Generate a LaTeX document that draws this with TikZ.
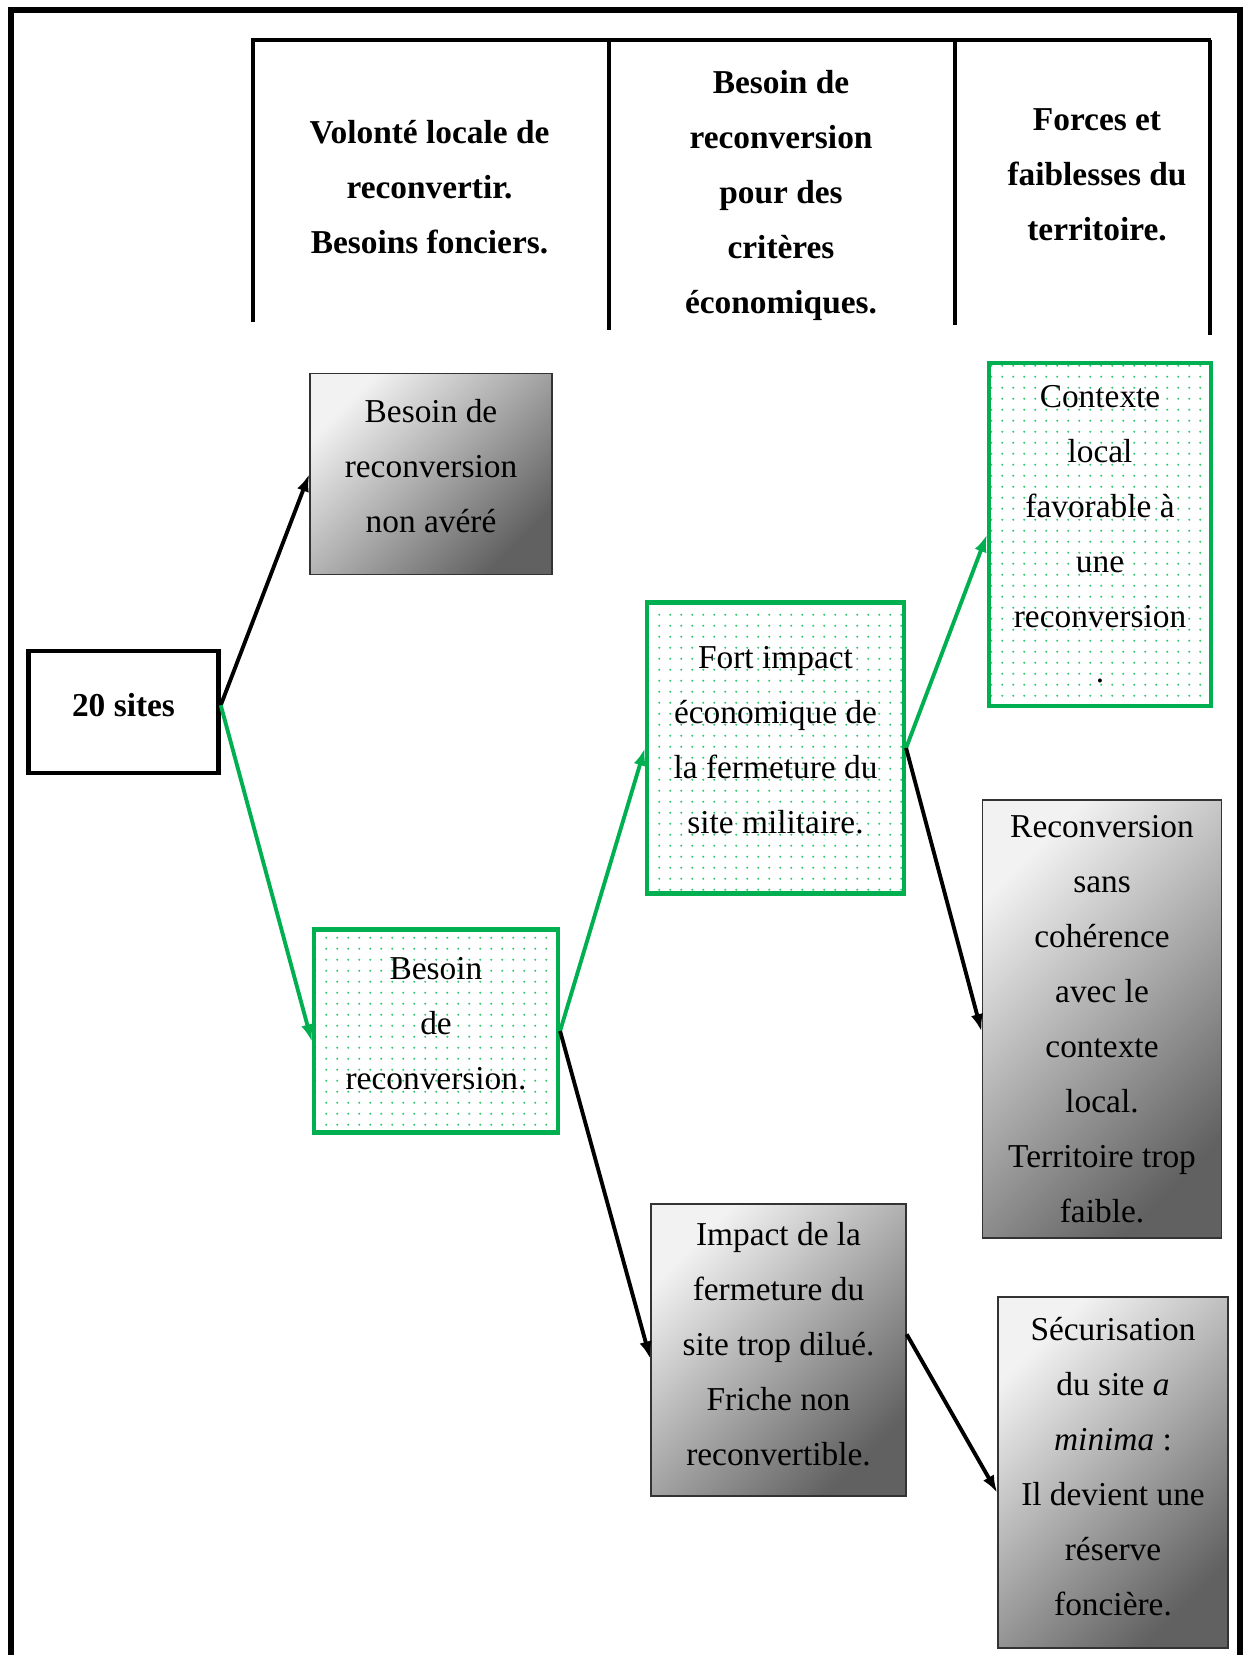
\documentclass[tikz,border=0pt]{standalone}
\usepackage{fontspec}
\setmainfont{Liberation Serif}
\usetikzlibrary{arrows.meta,patterns.meta}

\tikzdeclarepattern{
  name=greendots,
  type=uncolored,
  bounding box={(0pt,0pt) and (6.1pt,6.1pt)},
  tile size={(6.1pt,6.1pt)},
  code={\fill (3.05pt,3.05pt) circle [radius=0.7pt];}
}

\begin{document}
\begin{tikzpicture}[x=0.02cm, y=-0.02cm,
   font=\fontsize{19pt}{31.3pt}\selectfont,
   every node/.style={align=center, inner sep=0pt},
   entete/.style={font=\fontsize{19pt}{31.3pt}\selectfont\bfseries},
   decale/.style={execute at end node={\rule[-#1]{0pt}{0pt}}},
   decale/.default=8.5pt,
   greybox/.style={draw=black!80, line width=0.8pt,
     top color=black!5, bottom color=black!62, shading angle=45},
   greenbox/.style={draw=vert, line width=2.4pt,
     pattern=greendots, pattern color=pointvert},
   arrow/.style={-{Latex[length=10pt,width=7pt]}, line width=2.2pt}
  ]
   \definecolor{vert}{RGB}{0,176,80}
   \definecolor{pointvert}{RGB}{50,200,110}
   \useasboundingbox (0,0) rectangle (1243,1655);

   % cadre et en-tete
   \draw[line width=3pt] (11,1655) -- (11,10) -- (1240,10) -- (1240,1655);
   \draw[line width=2.5pt] (251,40) -- (1211,40);
   \foreach \x/\y in {253/322, 609/330, 955/325, 1210/335}
     \draw[line width=1.8pt] (\x,40) -- (\x,\y);
   \node[entete] (col1) at (429.5,187) {Volonté locale de\\reconvertir.\\Besoins fonciers.};
   \node[entete] (col2) at (781,195) {Besoin de\\reconversion\\pour des\\critères\\économiques.};
   \node[entete] (col3) at (1097,175) {Forces et\\faiblesses du\\territoire.};

   % boites
   \node [draw, line width=2.6pt, decale,
    font=\fontsize{19pt}{31.3pt}\selectfont\bfseries,
    minimum width=3.8cm,
    minimum height=2.44cm
   ] (sites) at (123.5,712) {20 sites};
   \node [greybox, decale=9.5pt, minimum width=4.84cm, minimum height=4.03cm]
     (nonaver) at (431,474) {Besoin de\\reconversion\\non avéré};
   \node [greenbox, decale, minimum width=4.88cm, minimum height=4.06cm]
     (besoin) at (436,1031) {Besoin\\de\\reconversion.};
   \node [greenbox, decale=9.5pt, minimum width=5.14cm, minimum height=5.82cm]
     (fort) at (775.5,748) {Fort impact\\économique de\\la fermeture du\\site militaire.};
   \node [greybox, decale=7.2pt, minimum width=5.1cm, minimum height=5.84cm]
     (dilue) at (778.5,1350) {Impact de la\\fermeture du\\site trop dilué.\\Friche non\\reconvertible.};
   \node [greenbox, minimum width=4.44cm, minimum height=6.86cm]
     (contexte) at (1100,534.5) {Contexte\\local\\favorable à\\une\\reconversion\\.};
   \node [greybox, minimum width=4.79cm, minimum height=8.76cm]
     (sanscoh) at (1102,1019) {Reconversion\\sans\\cohérence\\avec le\\contexte\\local.\\Territoire trop\\faible.};
   \node [greybox, decale=7.2pt, minimum width=4.6cm, minimum height=7.02cm]
     (securis) at (1113,1472.5) {Sécurisation\\du site \textit{a}\\\textit{minima} :\\Il devient une\\réserve\\foncière.};

   % fleches
   \draw[arrow] (sites.4) -- (nonaver.west);
   \draw[arrow, vert] (sites.4) -- (besoin.185);
   \draw[arrow, vert] (besoin.east) -- (fort.west);
   \draw[arrow] (besoin.east) -- (dilue.184);
   \draw[arrow, vert] (fort.east) -- (contexte.west);
   \draw[arrow] (fort.east) -- (sanscoh.186);
   \draw[arrow] (dilue.7) -- (securis.190);
\end{tikzpicture}
\end{document}
